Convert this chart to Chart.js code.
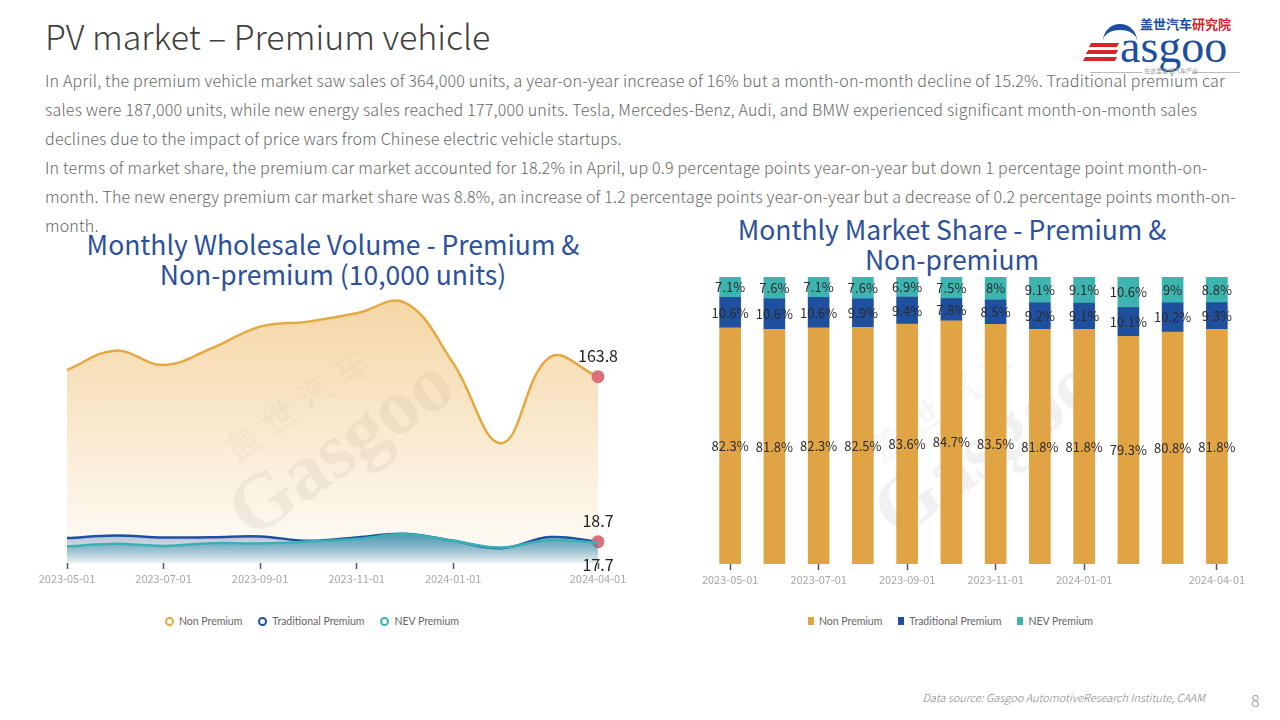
<!DOCTYPE html>
<html>
<head>
<meta charset="utf-8">
<title>PV market - Premium vehicle</title>
<script src="https://cdn.jsdelivr.net/npm/chart.js@4.4.1/dist/chart.umd.min.js"></script>
<style>
    body { margin: 0; width: 1280px; height: 720px; position: relative; overflow: hidden; background: #fff; font-family: 'Noto Sans CJK SC', 'Noto Sans', sans-serif; }
    .abs { position: absolute; }
    #pageTitle { left: 45px; top: 18px; font-size: 34px; line-height: 36px; font-weight: 300; color: #404040; white-space: nowrap; }
    #intro { left: 45px; top: 66px; font-size: 16px; line-height: 29px; letter-spacing: 0.2px; font-weight: 300; color: #666; white-space: nowrap; }
    .chartTitle { font-size: 26.5px; line-height: 30px; color: #2b509c; text-align: center; white-space: nowrap; }
    .legend { top: 613px; height: 16px; font-family: Lato, sans-serif; font-size: 10.5px; color: #666; display: flex; align-items: center; white-space: nowrap; }
    .legend span.item { display: inline-flex; align-items: center; margin-right: 16px; }
    .legend i { display: inline-block; margin-right: 5px; }
    .legend i.ring { width: 5px; height: 5px; border-radius: 50%; border: 2px solid; background: #fff; }
    .legend i.box { width: 6px; height: 8px; }
    .wm { color: rgba(0,0,0,0.055); transform: rotate(-35deg); white-space: nowrap; text-align: center; }
    .wm .cn { font-size: 34px; letter-spacing: 10px; font-weight: bold; }
    .wm .en { font-family: 'Liberation Serif', serif; font-size: 80px; line-height: 70px; font-weight: bold; }
    #footer { right: 75px; top: 689px; font-size: 11px; font-style: italic; color: #7f7f7f; font-weight: 300; }
    #pageNo { left: 1251px; top: 688px; font-size: 16px; color: #999; font-weight: 300; }
</style>
</head>
<body>
<div id="pageTitle" class="abs">PV market – Premium vehicle</div>
<div id="intro" class="abs">In April, the premium vehicle market saw sales of 364,000 units, a year-on-year increase of 16% but a month-on-month decline of 15.2%. Traditional premium car<br>sales were 187,000 units, while new energy sales reached 177,000 units. Tesla, Mercedes-Benz, Audi, and BMW experienced significant month-on-month sales<br>declines due to the impact of price wars from Chinese electric vehicle startups.<br>In terms of market share, the premium car market accounted for 18.2% in April, up 0.9 percentage points year-on-year but down 1 percentage point month-on-<br>month. The new energy premium car market share was 8.8%, an increase of 1.2 percentage points year-on-year but a decrease of 0.2 percentage points month-on-<br>month.</div>

<!-- logo -->
<div class="abs" style="left:1140px;top:16px;font-size:13px;font-weight:bold;line-height:16px;"><span style="color:#1d4f9e">盖世汽车</span><span style="color:#d7262b">研究院</span></div>
<div class="abs" style="left:1103px;top:24px;width:34px;height:26px;border-top:6px solid #1d4f9e;border-radius:30px 30px 0 0;"></div>
<div class="abs" style="left:1090px;top:43px;width:28px;height:4px;background:#d7262b;transform:skewX(-30deg);"></div>
<div class="abs" style="left:1087px;top:50px;width:30px;height:4px;background:#d7262b;transform:skewX(-30deg);"></div>
<div class="abs" style="left:1084px;top:57px;width:32px;height:4px;background:#d7262b;transform:skewX(-30deg);"></div>
<div class="abs" style="left:1120px;top:22px;font-family:'Liberation Serif',serif;font-size:46px;line-height:50px;color:#1d4f9e;">asgoo</div>
<div class="abs" style="left:1090px;top:72px;width:52px;border-top:1px solid #bbb;"></div>
<div class="abs" style="left:1192px;top:72px;width:48px;border-top:1px solid #bbb;"></div>
<div class="abs" style="left:1144px;top:67px;font-size:6px;line-height:8px;color:#999;">在这里读懂汽车产业</div>

<!-- watermarks -->
<div class="abs wm" style="left:200px;top:370px;width:240px;"><div class="cn">盖世汽车</div><div class="en">Gasgoo</div></div>
<div class="abs wm" style="left:845px;top:370px;width:240px;"><div class="cn">盖世汽车</div><div class="en">Gasgoo</div></div>

<div class="abs chartTitle" style="left:83px;top:229px;width:500px;">Monthly Wholesale Volume - Premium &amp;<br>Non-premium (10,000 units)</div>
<div class="abs chartTitle" style="left:702px;top:214px;width:500px;">Monthly Market Share - Premium &amp;<br>Non-premium</div>

<div class="abs" style="left:30px;top:280px;width:600px;height:313px;"><canvas id="volumeChart"></canvas></div>
<div class="abs" style="left:690px;top:267px;width:570px;height:327px;"><canvas id="shareChart"></canvas></div>

<div class="abs legend" style="left:165px;">
    <span class="item"><i class="ring" style="border-color:#e3a942"></i>Non Premium</span>
    <span class="item"><i class="ring" style="border-color:#1f4fa0"></i>Traditional Premium</span>
    <span class="item"><i class="ring" style="border-color:#3bb0b4"></i>NEV Premium</span>
</div>
<div class="abs legend" style="left:808px;">
    <span class="item"><i class="box" style="background:#e1a444"></i>Non Premium</span>
    <span class="item"><i class="box" style="background:#1f50a0"></i>Traditional Premium</span>
    <span class="item"><i class="box" style="background:#3eb4b1"></i>NEV Premium</span>
</div>

<div id="footer" class="abs">Data source: Gasgoo AutomotiveResearch Institute, CAAM</div>
<div id="pageNo" class="abs">8</div>

<script>
// months shown on both charts
var months = ['2023-05-01', '2023-06-01', '2023-07-01', '2023-08-01', '2023-09-01', '2023-10-01',
    '2023-11-01', '2023-12-01', '2024-01-01', '2024-02-01', '2024-03-01', '2024-04-01'];
var tickIndexes = [0, 2, 4, 6, 8, 11];

// wholesale volume, 10,000 units
var nonPremiumVolume = [169.7, 186.7, 174.1, 188.8, 207.8, 212.2, 219.6, 228.9, 175.6, 105.3, 180.9, 163.8];
var traditionalVolume = [21.9, 24.2, 22.4, 22.7, 23.4, 19.5, 22.4, 25.7, 19.5, 13.0, 22.8, 18.7];
var nevVolume = [14.6, 17.0, 15.0, 17.4, 17.2, 18.8, 21.0, 25.3, 19.5, 13.6, 20.2, 17.7];

// market share, %
var nonPremiumShare = [82.3, 81.8, 82.3, 82.5, 83.6, 84.7, 83.5, 81.8, 81.8, 79.3, 80.8, 81.8];
var traditionalShare = [10.6, 10.6, 10.6, 9.9, 9.4, 7.8, 8.5, 9.2, 9.1, 10.1, 10.2, 9.3];
var nevShare = [7.1, 7.6, 7.1, 7.6, 6.9, 7.5, 8, 9.1, 9.1, 10.6, 9, 8.8];

var labelFont = "'Noto Sans CJK SC', sans-serif";

function tickCallback(value, index) {
    return tickIndexes.indexOf(index) >= 0 ? this.getLabelForValue(value) : '';
}

function tickColor(ctx) {
    return tickIndexes.indexOf(ctx.index) >= 0 ? '#555' : 'rgba(0,0,0,0)';
}

function xAxis(offset) {
    return {
        offset: offset,
        border: { display: false },
        grid: { drawOnChartArea: false, drawTicks: true, tickLength: 6, tickWidth: 1.5, tickColor: tickColor, offset: false },
        ticks: { autoSkip: false, maxRotation: 0, padding: 3, color: '#a6a6a6', font: { family: labelFont, size: 11 }, callback: tickCallback },
        afterFit: function (scale) { scale.height = 30; }
    };
}

function areaFill(r, g, b, topAlpha, bottomAlpha, topValue) {
    return function (context) {
        var chart = context.chart;
        if (!chart.chartArea) return null;
        var top = topValue === undefined ? chart.chartArea.top : chart.scales.y.getPixelForValue(topValue);
        var grad = chart.ctx.createLinearGradient(0, top, 0, chart.chartArea.bottom);
        grad.addColorStop(0, 'rgba(' + r + ',' + g + ',' + b + ',' + topAlpha + ')');
        grad.addColorStop(1, 'rgba(' + r + ',' + g + ',' + b + ',' + bottomAlpha + ')');
        return grad;
    };
}

function lastPointRadius(ctx) {
    return ctx.dataIndex === months.length - 1 ? 6.5 : 0;
}

// value labels at the end of each line
var endLabels = {
    id: 'endLabels',
    afterDatasetsDraw: function (chart) {
        var ctx = chart.ctx;
        ctx.save();
        ctx.font = '16px ' + labelFont;
        ctx.fillStyle = '#222';
        ctx.textAlign = 'center';
        ctx.textBaseline = 'middle';
        chart.data.datasets.forEach(function (ds, di) {
            var meta = chart.getDatasetMeta(di);
            var last = meta.data[meta.data.length - 1];
            var value = ds.data[ds.data.length - 1].toFixed(1);
            var dy = ds.labelBelow ? 22 : -21;
            ctx.fillText(value, last.x, last.y + dy);
        });
        ctx.restore();
    }
};

// percentage labels centred in each bar segment
var segmentLabels = {
    id: 'segmentLabels',
    afterDatasetsDraw: function (chart) {
        var ctx = chart.ctx;
        ctx.save();
        ctx.font = '13px ' + labelFont;
        ctx.fillStyle = '#2b2b2b';
        ctx.textAlign = 'center';
        ctx.textBaseline = 'middle';
        chart.data.datasets.forEach(function (ds, di) {
            chart.getDatasetMeta(di).data.forEach(function (bar, i) {
                ctx.fillText(ds.data[i] + '%', bar.x, (bar.y + bar.base) / 2);
            });
        });
        ctx.restore();
    }
};

new Chart(document.getElementById('volumeChart'), {
    type: 'line',
    data: {
        labels: months,
        datasets: [{
            label: 'Non Premium',
            data: nonPremiumVolume,
            borderColor: '#e3a942',
            borderWidth: 2.5,
            backgroundColor: areaFill(236, 178, 86, 0.55, 0.03),
            fill: 'origin',
            tension: 0.4,
            pointRadius: lastPointRadius,
            pointBackgroundColor: '#dc6e7a',
            pointBorderWidth: 0,
            order: 2
        }, {
            label: 'Traditional Premium',
            data: traditionalVolume,
            borderColor: '#1f4fa0',
            borderWidth: 2.5,
            backgroundColor: areaFill(31, 79, 160, 0.35, 0.03, 28),
            fill: 'origin',
            tension: 0.4,
            pointRadius: lastPointRadius,
            pointBackgroundColor: '#dc6e7a',
            pointBorderWidth: 0,
            order: 1
        }, {
            label: 'NEV Premium',
            data: nevVolume,
            borderColor: '#3bb0b4',
            borderWidth: 2.5,
            backgroundColor: areaFill(40, 140, 165, 0.75, 0.05, 26),
            fill: 'origin',
            tension: 0.4,
            pointRadius: 0,
            labelBelow: true,
            order: 0
        }]
    },
    options: {
        responsive: true,
        maintainAspectRatio: false,
        animation: false,
        layout: { padding: { top: 10, left: 37, right: 32, bottom: 0 } },
        plugins: { legend: { display: false }, tooltip: { enabled: false } },
        scales: {
            x: xAxis(false),
            y: { display: false, min: 0, max: 240 }
        }
    },
    plugins: [endLabels]
});

new Chart(document.getElementById('shareChart'), {
    type: 'bar',
    data: {
        labels: months,
        datasets: [{
            label: 'Non Premium',
            data: nonPremiumShare,
            backgroundColor: '#e1a444',
            barThickness: 21
        }, {
            label: 'Traditional Premium',
            data: traditionalShare,
            backgroundColor: '#1f50a0',
            barThickness: 21
        }, {
            label: 'NEV Premium',
            data: nevShare,
            backgroundColor: '#3eb4b1',
            barThickness: 21
        }]
    },
    options: {
        responsive: true,
        maintainAspectRatio: false,
        animation: false,
        layout: { padding: { top: 10, left: 18, right: 21, bottom: 0 } },
        plugins: { legend: { display: false }, tooltip: { enabled: false } },
        scales: {
            x: Object.assign(xAxis(true), { stacked: true }),
            y: { display: false, stacked: true, min: 0, max: 100 }
        }
    },
    plugins: [segmentLabels]
});
</script>
</body>
</html>
